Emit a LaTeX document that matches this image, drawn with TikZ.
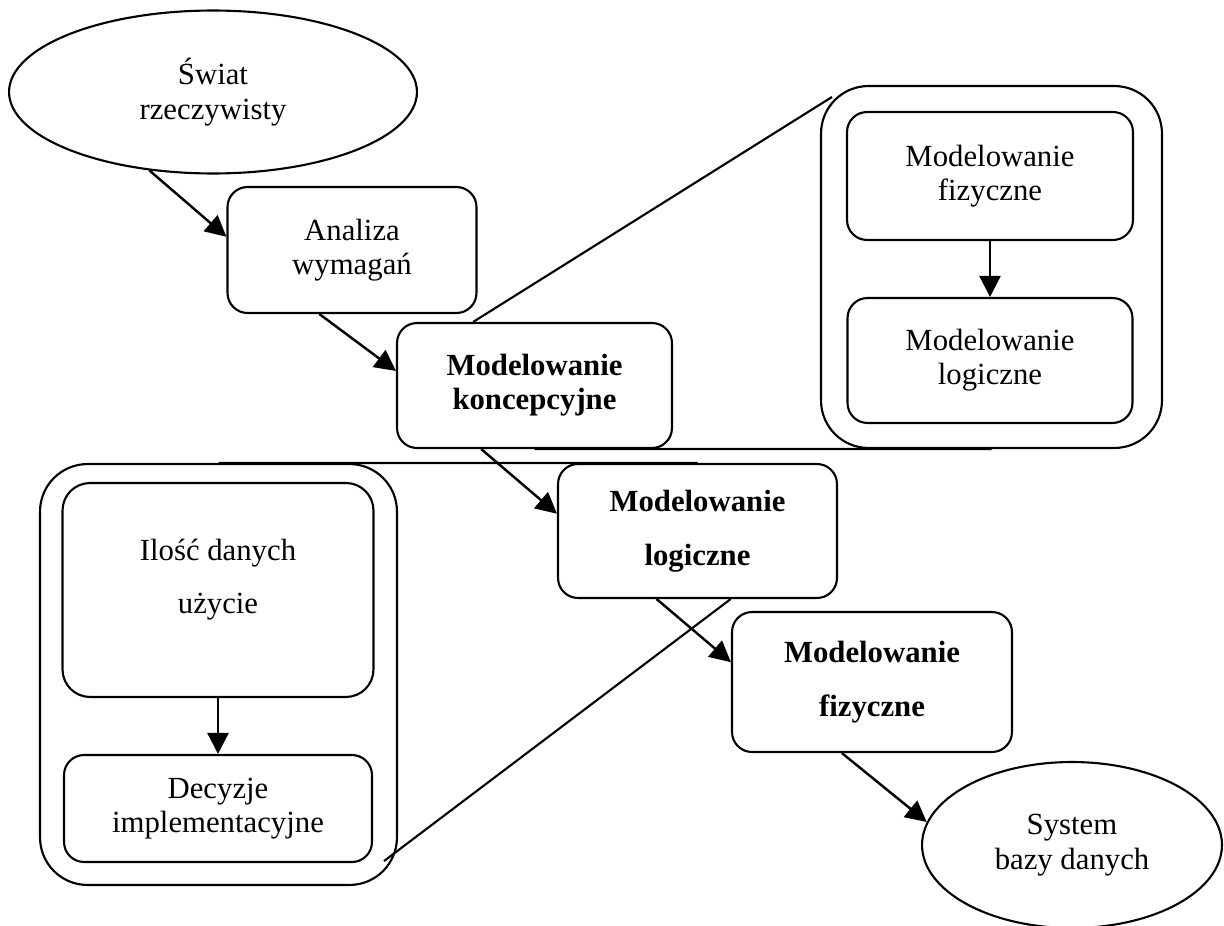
\documentclass[tikz,border=0pt]{standalone}
\usepackage{fontspec}
\setmainfont{Liberation Serif}
\usetikzlibrary{shapes.geometric,arrows.meta,calc}

\begin{document}
\begin{tikzpicture}[x=0.02cm,y=-0.02cm,line width=1.2pt,
    every node/.style={font=\fontsize{17.5}{19.5}\selectfont, align=center, inner sep=0pt},
    strong/.style={font=\fontsize{17.5}{19.5}\selectfont\bfseries},
    box/.style={draw, rounded corners=0.4cm},
    oval/.style={draw, ellipse},
    frame/.style={draw, rounded corners=0.95cm},
    arr/.style={line width=1.4pt, -{Triangle[length=0.42cm,width=0.42cm]}}]
  \useasboundingbox (0,0) rectangle (1224,926);

  % right frame
  \node[frame, minimum width=6.82cm, minimum height=7.24cm] (rframe) at (991.5,267) {};
  \node[box, minimum width=5.72cm, minimum height=2.56cm] (rfiz) at (990,176) {Modelowanie\\fizyczne};
  \node[box, minimum width=5.7cm, minimum height=2.5cm] (rlog) at (990,360.5) {Modelowanie\\logiczne};
  \draw[arr] (rfiz.south) -- (rlog.north);

  % left frame
  \node[frame, minimum width=7.14cm, minimum height=8.42cm] (lframe) at (218.5,674.5) {};
  \node[box, rounded corners=0.55cm, minimum width=6.22cm, minimum height=4.28cm] (ilosc) at (218,590) {Ilość danych\\[11pt]użycie\\[-4pt]\mbox{}};
  \node[box, minimum width=6.16cm, minimum height=2.14cm] (decyzje) at (218,808.5) {Decyzje\\implementacyjne};
  \draw[arr] (ilosc.south) -- (decyzje.north);

  % main path
  \node[oval, minimum width=8.16cm, minimum height=3.26cm] (swiat) at (213,92) {Świat\\rzeczywisty};
  \node[box, minimum width=4.98cm, minimum height=2.52cm] (analiza) at (352,250) {Analiza\\wymagań};
  \node[box, strong, minimum width=5.5cm, minimum height=2.5cm] (konc) at (534.5,385.5) {Modelowanie\\koncepcyjne};
  \node[box, strong, minimum width=5.58cm, minimum height=2.68cm] (logi) at (697.5,531) {Modelowanie\\[11pt]logiczne};
  \node[box, strong, minimum width=5.6cm, minimum height=2.8cm] (fiz) at (872,682) {Modelowanie\\[11pt]fizyczne};
  \node[oval, minimum width=6cm, minimum height=3.32cm] (system) at (1072,845) {System\\bazy danych};

  \draw[arr] (swiat.231) -- (analiza.174);
  \draw[arr] (analiza.243) -- (konc.174);
  \draw[arr] (konc.230) -- (logi.173);
  \draw[arr] (logi.239) -- (fiz.172);
  \draw[arr] (fiz.247) -- (system.171);

  % zoom lines
  \draw (konc.134) -- ($(rframe.north west)+(12,12)$);
  \draw (konc.south) -- (rframe.south);
  \draw (lframe.north) -- (logi.north);
  \draw ($(lframe.south east)+(-14,-25)$) -- (logi.296);
\end{tikzpicture}
\end{document}
